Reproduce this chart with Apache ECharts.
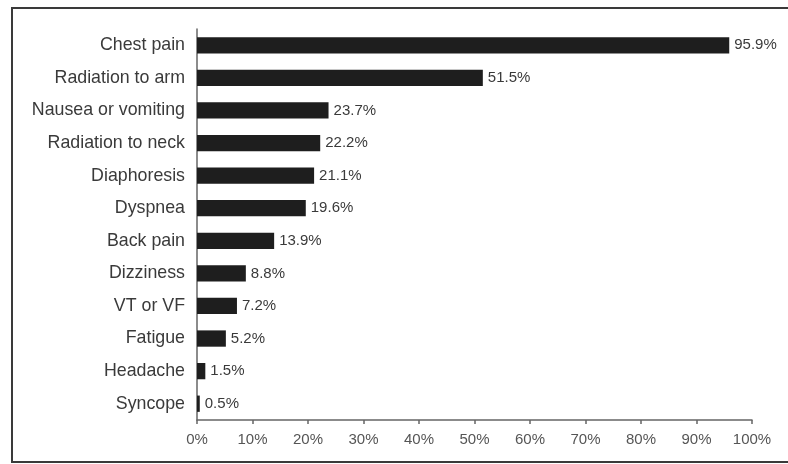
<!DOCTYPE html>
<html><head><meta charset="utf-8">
<script src="https://cdn.jsdelivr.net/npm/echarts@6/dist/echarts.min.js"></script>
<style>html,body{margin:0;padding:0;background:#fff}#c{width:788px;height:464px}</style>
</head><body><div id="c"></div>
<script>
var categories = ["Chest pain","Radiation to arm","Nausea or vomiting","Radiation to neck","Diaphoresis","Dyspnea","Back pain","Dizziness","VT or VF","Fatigue","Headache","Syncope"];
var values = [95.9,51.5,23.7,22.2,21.1,19.6,13.9,8.8,7.2,5.2,1.5,0.5];
var chart = echarts.init(document.getElementById('c'));
chart.setOption({
  animation:false,
  backgroundColor:'#fff',
  graphic:[{type:'rect',shape:{x:12,y:8,width:800,height:454},style:{fill:'none',stroke:'#3a3a3a',lineWidth:2},z:-1}],
  grid:{left:197,right:36,top:29,bottom:44},
  xAxis:{type:'value',min:0,max:100,interval:10,
    axisLine:{show:true,lineStyle:{color:'#666',width:1.5}},
    axisTick:{show:true,length:4,lineStyle:{color:'#666',width:1.5}},
    splitLine:{show:false},
    axisLabel:{formatter:'{value}%',color:'#555',fontSize:15,fontFamily:'Liberation Sans, Arial',margin:12}},
  yAxis:{type:'category',inverse:true,data:categories,
    axisLine:{show:true,lineStyle:{color:'#666',width:1.5}},
    axisTick:{show:false},
    axisLabel:{color:'#3a3a3a',fontSize:17.8,fontFamily:'Liberation Sans, Arial',margin:12}},
  series:[{type:'bar',data:values,barWidth:'50%',
    itemStyle:{color:'#1e1e1e'},
    label:{show:true,position:'right',distance:5,formatter:function(p){return p.value.toFixed(1)+'%';},color:'#3a3a3a',fontSize:15,fontFamily:'Liberation Sans, Arial'}}]
});
</script></body></html>
